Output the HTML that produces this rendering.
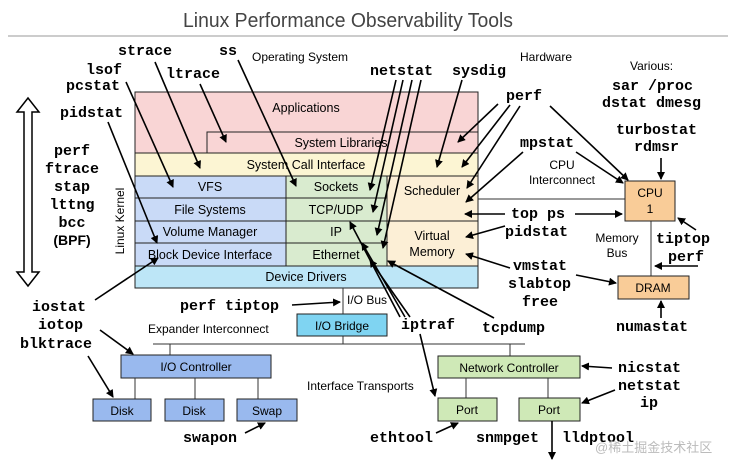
<!DOCTYPE html>
<html><head><meta charset="utf-8"><style>
html,body{margin:0;padding:0;background:#fff}
svg{display:block}
.m{font-family:"Liberation Mono",monospace;font-weight:bold;font-size:15px;fill:#000}
.s{font-family:"Liberation Sans",sans-serif;font-size:12px;fill:#000}
.b{stroke:#222;stroke-width:1}
.a{stroke:#000;stroke-width:1.6;fill:none;marker-end:url(#ah)}
</style></head><body>
<svg width="737" height="461" viewBox="0 0 737 461" xmlns="http://www.w3.org/2000/svg">
<defs><marker id="ah" markerWidth="8" markerHeight="8" refX="7" refY="4" orient="auto" markerUnits="userSpaceOnUse"><path d="M0,0 L8,4 L0,8 z" fill="#000"/></marker></defs>
<text x="348" y="27" text-anchor="middle" font-family="Liberation Sans,sans-serif" font-size="20" fill="#444" textLength="330" lengthAdjust="spacingAndGlyphs">Linux Performance Observability Tools</text>
<line x1="8" y1="36" x2="728" y2="36" stroke="#999" stroke-width="1"/>
<!-- OS stack -->
<rect x="135" y="92" width="343" height="61" fill="#f9d5d5" class="b"/>
<rect x="207" y="132" width="271" height="21" fill="#f9d5d5" class="b"/>
<rect x="135" y="153" width="343" height="23" fill="#fcf5d3" class="b"/>
<rect x="135" y="176" width="151" height="90" fill="#c9daf7" class="b"/>
<line x1="135" y1="198" x2="286" y2="198" class="b"/><line x1="135" y1="221" x2="286" y2="221" class="b"/><line x1="135" y1="243" x2="286" y2="243" class="b"/>
<rect x="286" y="176" width="101" height="90" fill="#d9ebcf" class="b"/>
<line x1="286" y1="198" x2="387" y2="198" class="b"/><line x1="286" y1="221" x2="387" y2="221" class="b"/><line x1="286" y1="243" x2="387" y2="243" class="b"/>
<rect x="387" y="176" width="91" height="90" fill="#fcefd6" class="b"/>
<line x1="387" y1="221" x2="478" y2="221" class="b"/>
<rect x="135" y="266" width="343" height="22" fill="#bde6f7" class="b"/>
<g class="s" text-anchor="middle" style="font-size:12.5px">
<text x="306" y="112">Applications</text><text x="341" y="147">System Libraries</text><text x="306" y="169">System Call Interface</text>
<text x="210" y="191">VFS</text><text x="210" y="214">File Systems</text><text x="210" y="236">Volume Manager</text><text x="210" y="259">Block Device Interface</text>
<text x="336" y="191">Sockets</text><text x="336" y="214">TCP/UDP</text><text x="336" y="236">IP</text><text x="336" y="259">Ethernet</text>
<text x="432" y="195">Scheduler</text><text x="432" y="240">Virtual</text><text x="432" y="256">Memory</text>
<text x="306" y="281">Device Drivers</text>
</g>
<text x="124" y="221" class="s" text-anchor="middle" transform="rotate(-90 124 221)">Linux Kernel</text>
<!-- hardware -->
<line x1="478" y1="199" x2="625" y2="199" stroke="#333"/>
<line x1="651" y1="221" x2="651" y2="276" stroke="#333"/>
<rect x="625" y="181" width="50" height="40" fill="#f9cc98" class="b"/>
<text x="650" y="197" class="s" text-anchor="middle">CPU</text><text x="650" y="213" class="s" text-anchor="middle">1</text>
<rect x="618" y="276" width="71" height="23" fill="#f9cc98" class="b"/>
<text x="653" y="292" class="s" text-anchor="middle">DRAM</text>
<line x1="343" y1="288" x2="343" y2="344" stroke="#333"/>
<rect x="297" y="314" width="90" height="22" fill="#7fd4f2" class="b"/>
<text x="342" y="330" class="s" text-anchor="middle">I/O Bridge</text>
<line x1="153" y1="344" x2="525" y2="344" stroke="#333"/>
<line x1="170" y1="344" x2="170" y2="355" stroke="#333"/><line x1="510" y1="344" x2="510" y2="356" stroke="#333"/>
<rect x="121" y="355" width="150" height="23" fill="#99b9ee" class="b"/>
<text x="196" y="371" class="s" text-anchor="middle">I/O Controller</text>
<line x1="135" y1="378" x2="135" y2="399" stroke="#333"/><line x1="195" y1="378" x2="195" y2="399" stroke="#333"/><line x1="258" y1="378" x2="258" y2="399" stroke="#333"/>
<rect x="93" y="399" width="58" height="22" fill="#99b9ee" class="b"/><rect x="165" y="399" width="59" height="22" fill="#99b9ee" class="b"/><rect x="237" y="399" width="60" height="22" fill="#99b9ee" class="b"/>
<text x="122" y="415" class="s" text-anchor="middle">Disk</text><text x="194" y="415" class="s" text-anchor="middle">Disk</text><text x="267" y="415" class="s" text-anchor="middle">Swap</text>
<rect x="438" y="356" width="142" height="22" fill="#cfe9b7" class="b"/>
<text x="509" y="372" class="s" text-anchor="middle">Network Controller</text>
<line x1="466" y1="378" x2="466" y2="398" stroke="#333"/><line x1="548" y1="378" x2="548" y2="398" stroke="#333"/>
<rect x="438" y="398" width="59" height="23" fill="#cfe9b7" class="b"/><rect x="519" y="398" width="61" height="23" fill="#cfe9b7" class="b"/>
<text x="467" y="414" class="s" text-anchor="middle">Port</text><text x="549" y="414" class="s" text-anchor="middle">Port</text>
<!-- sans labels -->
<g class="s">
<text x="252" y="61">Operating System</text><text x="520" y="61">Hardware</text><text x="630" y="70">Various:</text>
<text x="562" y="169" text-anchor="middle">CPU</text><text x="562" y="184" text-anchor="middle">Interconnect</text>
<text x="617" y="242" text-anchor="middle">Memory</text><text x="617" y="257" text-anchor="middle">Bus</text>
<text x="347" y="304">I/O Bus</text><text x="148" y="333">Expander Interconnect</text><text x="307" y="390">Interface Transports</text>
</g>
<!-- double arrow -->
<path d="M28,98 L17,112 L24,112 L24,272 L17,272 L28,286 L39,272 L32,272 L32,112 L39,112 Z" fill="#fff" stroke="#000" stroke-width="1.5"/>
<!-- mono labels -->
<g class="m">
<text x="118" y="55">strace</text><text x="219" y="55">ss</text>
<text x="86" y="74">lsof</text><text x="66" y="90">pcstat</text><text x="166" y="78">ltrace</text>
<text x="370" y="75">netstat</text><text x="452" y="75">sysdig</text>
<text x="612" y="90">sar /proc</text><text x="602" y="107">dstat dmesg</text>
<text x="506" y="100">perf</text><text x="60" y="117">pidstat</text>
<text x="616" y="134">turbostat</text><text x="634" y="151">rdmsr</text><text x="520" y="147">mpstat</text>
<text x="72" y="155" text-anchor="middle">perf</text><text x="72" y="173" text-anchor="middle">ftrace</text><text x="72" y="191" text-anchor="middle">stap</text><text x="72" y="209" text-anchor="middle">lttng</text><text x="72" y="227" text-anchor="middle">bcc</text>
<text x="511" y="218">top ps</text><text x="505" y="236">pidstat</text>
<text x="656" y="243">tiptop</text><text x="668" y="261">perf</text>
<text x="513" y="270">vmstat</text><text x="508" y="288">slabtop</text><text x="522" y="306">free</text>
<text x="180" y="310">perf tiptop</text>
<text x="32" y="311">iostat</text><text x="38" y="329">iotop</text><text x="20" y="348">blktrace</text>
<text x="401" y="329">iptraf</text><text x="482" y="332">tcpdump</text><text x="616" y="331">numastat</text>
<text x="618" y="372">nicstat</text><text x="618" y="390">netstat</text><text x="640" y="407">ip</text>
<text x="183" y="442">swapon</text><text x="370" y="442">ethtool</text><text x="476" y="442">snmpget</text><text x="562" y="442">lldptool</text>
</g>
<text x="72" y="245" text-anchor="middle" font-family="Liberation Sans,sans-serif" font-weight="bold" font-size="14">(BPF)</text>
<text x="595" y="452" font-family="Liberation Sans,'Noto Sans CJK SC',sans-serif" font-size="13" fill="#bbb">@稀土掘金技术社区</text>
<!-- arrows -->
<g>
<line class="a" x1="126" y1="82" x2="173" y2="187"/>
<line class="a" x1="155" y1="62" x2="200" y2="168"/>
<line class="a" x1="200" y1="84" x2="226" y2="142"/>
<line class="a" x1="238" y1="60" x2="296" y2="186"/>
<line class="a" x1="108" y1="122" x2="157" y2="243"/>
<line class="a" x1="396" y1="80" x2="370" y2="190"/>
<line class="a" x1="403" y1="80" x2="373" y2="212"/>
<line class="a" x1="412" y1="80" x2="377" y2="235"/>
<line class="a" x1="421" y1="80" x2="383" y2="248"/>
<line class="a" x1="462" y1="80" x2="437" y2="167"/>
<line class="a" x1="498" y1="104" x2="458" y2="142"/>
<line class="a" x1="510" y1="105" x2="462" y2="167"/>
<line class="a" x1="520" y1="106" x2="467" y2="188"/>
<line class="a" x1="550" y1="106" x2="628" y2="180"/>
<line class="a" x1="523" y1="152" x2="466" y2="202"/>
<line class="a" x1="576" y1="152" x2="623" y2="183"/>
<line class="a" x1="505" y1="214" x2="465" y2="214"/>
<line class="a" x1="575" y1="214" x2="622" y2="214"/>
<line class="a" x1="505" y1="226" x2="466" y2="237"/>
<line class="a" x1="510" y1="268" x2="466" y2="254"/>
<line class="a" x1="576" y1="275" x2="616" y2="283"/>
<line class="a" x1="696" y1="230" x2="678" y2="218"/>
<line class="a" x1="698" y1="266" x2="655" y2="266"/>
<line class="a" x1="661" y1="158" x2="661" y2="179"/>
<line class="a" x1="661" y1="318" x2="661" y2="301"/>
<line class="a" x1="494" y1="318" x2="388" y2="261"/>
<line class="a" x1="400" y1="317" x2="350" y2="222"/>
<line class="a" x1="405" y1="317" x2="362" y2="243"/>
<line class="a" x1="410" y1="317" x2="370" y2="260"/>
<line class="a" x1="420" y1="334" x2="435" y2="396"/>
<line class="a" x1="292" y1="305" x2="340" y2="302"/>
<line class="a" x1="95" y1="300" x2="158" y2="258"/>
<line class="a" x1="100" y1="330" x2="133" y2="354"/>
<line class="a" x1="88" y1="356" x2="113" y2="397"/>
<line class="a" x1="245" y1="433" x2="265" y2="423"/>
<line class="a" x1="436" y1="433" x2="458" y2="423"/>
<line class="a" x1="612" y1="368" x2="582" y2="366"/>
<line class="a" x1="615" y1="390" x2="582" y2="403"/>
<line class="a" x1="552" y1="421" x2="552" y2="459"/>
</g>
</svg>
</body></html>
